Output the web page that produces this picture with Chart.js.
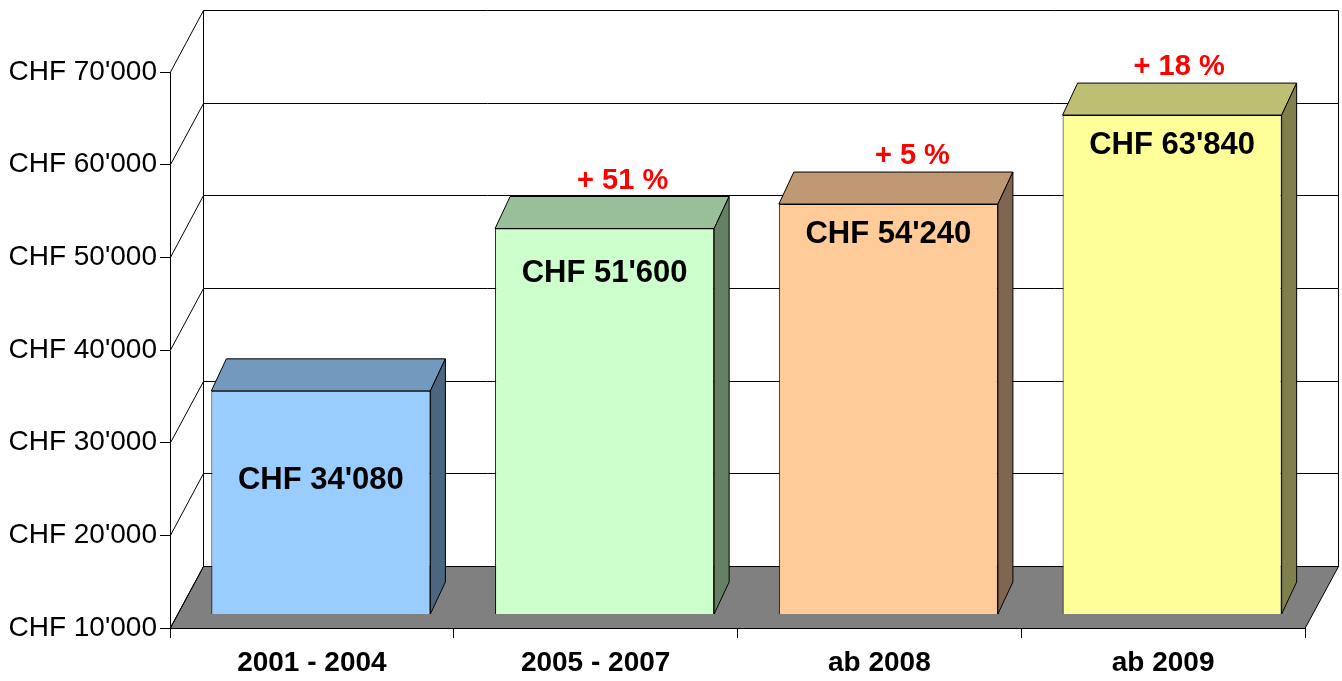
<!DOCTYPE html>
<html>
<head>
<meta charset="utf-8">
<script src="https://cdn.jsdelivr.net/npm/chart.js@4.4.0/dist/chart.umd.min.js"></script>
<style>
    html, body { margin: 0; padding: 0; background: #fff; }
    #wrap { width: 1342px; height: 681px; }
</style>
</head>
<body>
<div id="wrap"><canvas id="salaryChart" width="1342" height="681"></canvas></div>
<script>
// Daten
const categories = ['2001 - 2004', '2005 - 2007', 'ab 2008', 'ab 2009'];
const values = [34080, 51600, 54240, 63840];
const increases = [null, 51, 5, 18];
const yTicks = [10000, 20000, 30000, 40000, 50000, 60000, 70000];

const frontColors = ['#99CCFF', '#CCFFCC', '#FFCC99', '#FFFF99'];
const topColors = ['#7399BF', '#99BF99', '#BF9973', '#BFBF73'];
const sideColors = ['#4C6680', '#668066', '#806650', '#80804C'];

// Position der Beschriftungen (Abstand unter der Balkenoberkante / Verschiebung der roten Texte)
const labelDrop = [98, 53, 39, 39];
const pctShift = [0, 18, 24, 7];

// 3D-Versatz
const WALL = { dx: 33, dy: -62 };
const FACE = { dx: 9, dy: -14 };
const BAR = { dx: 15, dy: -32 };

const FONT = "'Liberation Sans', Arial, sans-serif";

function chf(v) {
    return 'CHF ' + String(v).replace(/\B(?=(\d{3})+(?!\d))/g, "'");
}

function px(v) {
    return Math.round(v) + 0.5;
}

const box3d = {
    id: 'box3d',
    beforeDraw(chart) {
        const { ctx, chartArea: a, scales: { y } } = chart;
        ctx.save();
        ctx.lineWidth = 1;
        ctx.strokeStyle = '#000';

        // Boden
        ctx.fillStyle = '#808080';
        ctx.beginPath();
        ctx.moveTo(a.left, px(a.bottom));
        ctx.lineTo(a.right, px(a.bottom));
        ctx.lineTo(px(a.right + WALL.dx), px(a.bottom + WALL.dy));
        ctx.lineTo(px(a.left + WALL.dx), px(a.bottom + WALL.dy));
        ctx.closePath();
        ctx.fill();
        ctx.stroke();

        // Gitterlinien auf Seiten- und Rückwand
        yTicks.forEach(v => {
            const py = y.getPixelForValue(v);
            ctx.beginPath();
            ctx.moveTo(px(a.left), py);
            ctx.lineTo(px(a.left + WALL.dx), px(py + WALL.dy));
            ctx.lineTo(px(a.right + WALL.dx), px(py + WALL.dy));
            ctx.stroke();
        });

        // Kanten der Rückwand
        ctx.beginPath();
        ctx.moveTo(px(a.left + WALL.dx), px(a.top + WALL.dy));
        ctx.lineTo(px(a.left + WALL.dx), px(a.bottom + WALL.dy));
        ctx.moveTo(px(a.right + WALL.dx), px(a.top + WALL.dy));
        ctx.lineTo(px(a.right + WALL.dx), px(a.bottom + WALL.dy));
        ctx.stroke();
        ctx.restore();
    },
    beforeDatasetsDraw(chart) {
        chart.ctx.save();
        chart.ctx.translate(FACE.dx, FACE.dy);
    },
    afterDatasetsDraw(chart) {
        const ctx = chart.ctx;
        ctx.restore();
        const meta = chart.getDatasetMeta(0);
        const base = chart.scales.y.getPixelForValue(yTicks[0]);
        ctx.save();
        ctx.lineWidth = 1;
        ctx.strokeStyle = '#000';
        meta.data.forEach((bar, i) => {
            const { x, y, width } = bar.getProps(['x', 'y', 'width'], true);
            const l = x - width / 2 + FACE.dx;
            const r = x + width / 2 + FACE.dx;
            const t = y + FACE.dy;
            const b = base + FACE.dy;

            // Oberseite
            ctx.fillStyle = topColors[i];
            ctx.beginPath();
            ctx.moveTo(l, t);
            ctx.lineTo(r, t);
            ctx.lineTo(r + BAR.dx, t + BAR.dy);
            ctx.lineTo(l + BAR.dx, t + BAR.dy);
            ctx.closePath();
            ctx.fill();
            ctx.stroke();

            // rechte Seite
            ctx.fillStyle = sideColors[i];
            ctx.beginPath();
            ctx.moveTo(r, t);
            ctx.lineTo(r + BAR.dx, t + BAR.dy);
            ctx.lineTo(r + BAR.dx, b + BAR.dy);
            ctx.lineTo(r, b);
            ctx.closePath();
            ctx.fill();
            ctx.stroke();

            ctx.textAlign = 'center';
            ctx.textBaseline = 'alphabetic';
            ctx.fillStyle = '#000';
            ctx.font = 'bold 31px ' + FONT;
            ctx.fillText(chf(values[i]), x + FACE.dx, t + labelDrop[i]);

            if (increases[i] !== null) {
                ctx.fillStyle = '#FF0000';
                ctx.font = 'bold 29px ' + FONT;
                ctx.fillText('+ ' + increases[i] + ' %', x + FACE.dx + pctShift[i], t + BAR.dy - 8);
            }
        });
        ctx.restore();
    }
};

const ctx = document.getElementById('salaryChart').getContext('2d');
const salaryChart = new Chart(ctx, {
    type: 'bar',
    data: {
        labels: categories,
        datasets: [
            {
                data: values,
                backgroundColor: frontColors,
                borderColor: '#000',
                borderWidth: 1,
                barPercentage: 0.772,
                categoryPercentage: 1,
            },
        ],
    },
    options: {
        responsive: false,
        animation: false,
        layout: {
            padding: { top: 72, right: 37, left: 0, bottom: 0 },
        },
        scales: {
            x: {
                grid: { offset: true, drawOnChartArea: false, tickLength: 10, color: '#000' },
                border: { color: '#000' },
                ticks: {
                    color: '#000',
                    padding: 8,
                    font: { family: FONT, size: 28, weight: 'bold' },
                },
                afterFit: (s) => { s.height = 53; },
            },
            y: {
                min: 10000,
                max: 70000,
                grid: { drawOnChartArea: false, tickLength: 10, color: '#000' },
                border: { color: '#000' },
                ticks: {
                    stepSize: 10000,
                    color: '#000',
                    padding: 3,
                    font: { family: FONT, size: 28 },
                    callback: (v) => chf(v),
                },
                afterFit: (s) => { s.width = 170; },
            },
        },
        plugins: {
            legend: { display: false },
            tooltip: { enabled: false },
        },
    },
    plugins: [box3d],
});
</script>
</body>
</html>
